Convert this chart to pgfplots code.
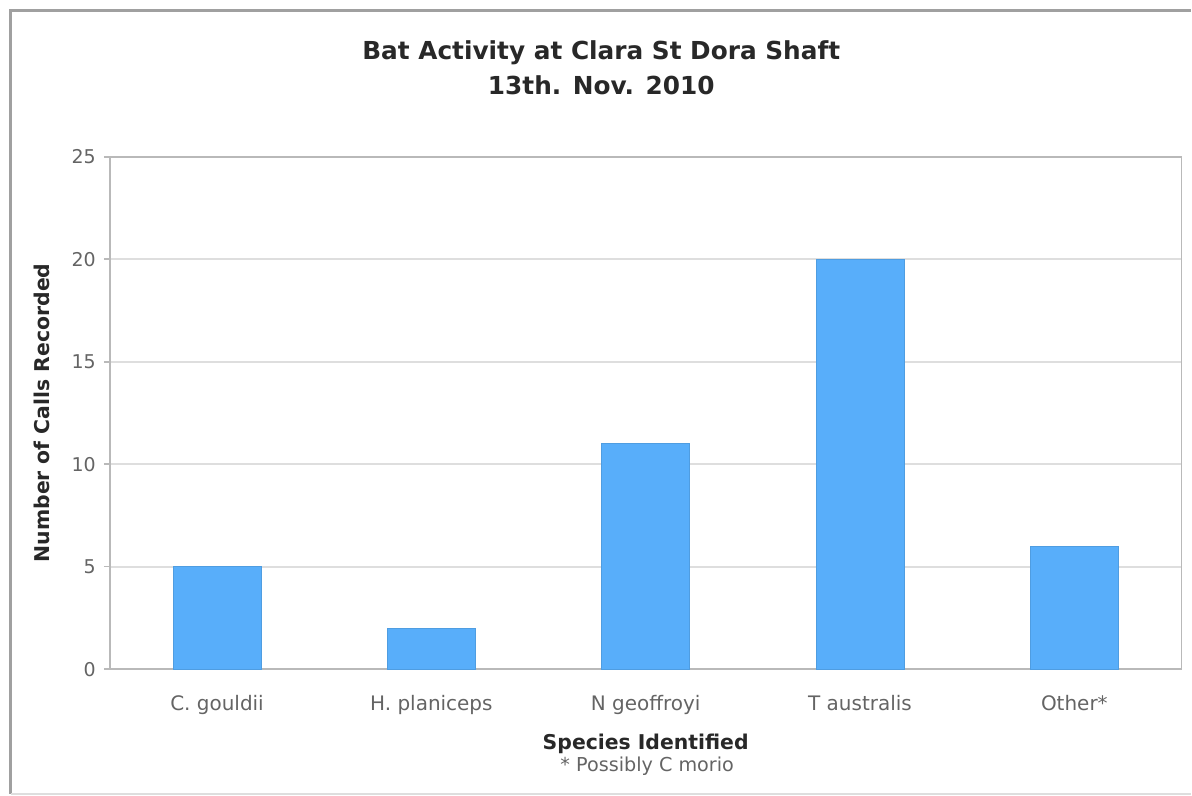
\documentclass[border=0pt]{standalone}
\usepackage{pgfplots}
\pgfplotsset{compat=1.18}
\usepackage{fontspec}
\setmainfont{DejaVu Sans}
\definecolor{barblue}{RGB}{88,174,250}
\definecolor{gridgray}{RGB}{222,222,222}
\definecolor{framegray}{RGB}{185,185,185}
\definecolor{ticktext}{RGB}{100,100,100}
\definecolor{labeltext}{RGB}{40,40,40}
\definecolor{outergray}{RGB}{160,160,160}

\pgfplotstableread{
idx calls
0 5
1 2
2 11
3 20
4 6
}\calls

\begin{document}
\begin{tikzpicture}
% page extent and outer frame
\path (0,0) rectangle (596pt,398pt);
\draw[outergray, line width=1.5pt] (5.5pt,0.5pt) -- (5.5pt,392.5pt) -- (596pt,392.5pt);
\draw[gridgray, line width=0.6pt] (5.5pt,0.5pt) -- (596pt,0.5pt);

\begin{axis}[
  at={(55pt,63pt)}, anchor=south west,
  scale only axis,
  width=536.5pt, height=256.5pt,
  xmin=-0.5, xmax=4.5,
  ymin=0, ymax=25,
  ytick={0,5,...,25},
  xtick=data,
  xticklabels={C. gouldii, H. planiceps, N geoffroyi, T australis, Other*},
  ybar, bar width=0.41,
  axis line style={framegray, line width=0.8pt},
  ymajorgrids, grid style={gridgray, line width=1pt},
  tick align=outside,
  ytick pos=left,
  ytick style={framegray, line width=0.8pt},
  major tick length=3pt,
  xtick style={draw=none},
  ticklabel style={ticktext},
  xticklabel style={font=\fontsize{10}{11}\selectfont, yshift=-6.5pt},
  yticklabel style={font=\fontsize{9.5}{11}\selectfont, xshift=-0.5pt},
  /pgf/number format/assume math mode=true,
  xlabel={\textbf{Species Identified}},
  ylabel={\textbf{Number of Calls Recorded}},
  xlabel style={labeltext, font=\fontsize{10.2}{12}\selectfont, yshift=-3pt},
  ylabel style={labeltext, font=\fontsize{10.2}{12}\selectfont, yshift=4pt},
]
\addplot[fill=barblue, draw=barblue!90!black, line width=0.4pt] table[x=idx, y=calls] {\calls};
\end{axis}

\node[labeltext, font=\bfseries\fontsize{12.4}{17.5}\selectfont, align=center] at (301pt,364pt)
  {Bat Activity at Clara St Dora Shaft\\13th. Nov. 2010};
\node[ticktext, font=\fontsize{9.6}{11}\selectfont] at (324pt,14.5pt) {* Possibly C morio};
\end{tikzpicture}
\end{document}
